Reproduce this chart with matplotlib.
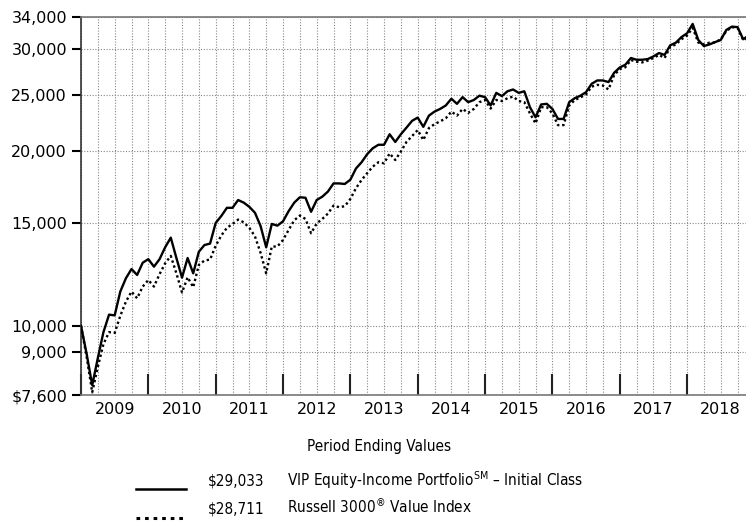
import numpy as np
import matplotlib
matplotlib.use("Agg")
import matplotlib.pyplot as plt
from matplotlib.lines import Line2D
from matplotlib.ticker import FixedLocator, NullLocator

# monthly values, Dec 2008 .. Dec 2018 (hypothetical $10,000 investment)
fund = [10000, 8950, 7900, 8800, 9750, 10450, 10420, 11450, 12070, 12520, 12230, 12840,
        13020, 12640, 13020, 13650, 14180, 13080, 12100, 13080, 12310, 13410, 13770, 13850,
        15030, 15450, 15960, 15960, 16460, 16290, 16020, 15650, 14850, 13650, 14970, 14870,
        15130, 15750, 16290, 16640, 16610, 15710, 16460, 16680, 17020, 17580, 17580, 17540,
        17840, 18650, 19120, 19740, 20210, 20490, 20490, 21360, 20720, 21360, 21930, 22530,
        22820, 22000, 23000, 23370, 23620, 23940, 24590, 24100, 24750, 24260, 24470, 24890,
        24750, 23940, 25170, 24850, 25330, 25510, 25170, 25330, 23780, 22850, 24040, 24100,
        23620, 22700, 22700, 24260, 24650, 24890, 25240, 26090, 26440, 26440, 26270, 27250,
        27830, 28140, 28900, 28700, 28700, 28780, 29080, 29470, 29260, 30390, 30710, 31400,
        31870, 33080, 31040, 30300, 30500, 30780, 31040, 32300, 32730, 32660, 31130, 31600,
        29033]
index = [10000, 8850, 7680, 8500, 9300, 9750, 9720, 10400, 11000, 11450, 11150, 11680,
         11990, 11680, 12270, 12810, 13190, 12310, 11410, 12120, 11650, 12730, 12950, 13000,
         13730, 14300, 14740, 14970, 15230, 15070, 14740, 14250, 13350, 12310, 13690, 13690,
         14050, 14620, 15190, 15480, 15270, 14430, 15000, 15270, 15600, 16100, 16000, 16060,
         16530, 17250, 17820, 18310, 18790, 19120, 19040, 19800, 19290, 19950, 20720, 21210,
         21720, 20880, 21890, 22240, 22480, 22760, 23370, 23000, 23620, 23250, 23620, 24260,
         24470, 23650, 24470, 24370, 24640, 24800, 24370, 24260, 23210, 22300, 23780, 23780,
         23210, 22150, 22150, 23940, 24470, 24720, 25020, 25800, 25980, 25910, 25510, 27000,
         27650, 27860, 28670, 28480, 28400, 28600, 28900, 29260, 28900, 30200, 30500, 31130,
         31590, 32560, 30730, 30500, 30710, 30730, 31130, 32170, 32660, 32560, 31040, 31300,
         28711]
years = list(range(2009, 2019))
y_ticks = [7600, 9000, 10000, 15000, 20000, 25000, 30000, 34000]
y_labels = ["$7,600", "9,000", "10,000", "15,000", "20,000", "25,000", "30,000", "34,000"]

# narrow sans for the legend block (original uses a condensed face)
legend_kw = dict(family="DejaVu Sans", stretch="condensed", fontsize=11, va="baseline")
plt.rcParams["mathtext.fontset"] = "custom"
plt.rcParams["mathtext.rm"] = "DejaVu Sans:stretch=condensed"

months = np.arange(len(fund))

fig = plt.figure(figsize=(7.46, 5.23), dpi=100)
# axes runs a little past the right edge of the image, like the original crop
ax = fig.add_axes([81 / 746, 128 / 523, 673.4 / 746, 378 / 523])

ax.plot(months, fund, color="black", lw=1.7, zorder=3)
ax.plot(months, index, color="black", lw=1.7, ls=(0, (1, 1.2)), zorder=3)

ax.set_yscale("log")
ax.set_ylim(7600, 34000)
ax.set_xlim(0, 120)
ax.yaxis.set_major_locator(FixedLocator(y_ticks))
ax.yaxis.set_minor_locator(NullLocator())
ax.set_yticklabels(y_labels)
ax.tick_params(axis="y", direction="out", length=6.5, width=1.5, pad=3.5,
               labelsize=11.5, color="black")

# year ticks (inside) + quarterly grid
ax.set_xticks(np.arange(0, 121, 12))
ax.set_xticklabels([])
ax.set_xticks([q for q in range(3, 120, 3) if q % 12], minor=True)
ax.tick_params(axis="x", which="major", direction="in", length=15, width=1.5, color="#222222")
ax.tick_params(axis="x", which="minor", length=0)
ax.grid(True, which="both", axis="x", color="#888888", lw=0.8, ls=(0, (1, 1.5)))
ax.grid(True, which="major", axis="y", color="#888888", lw=0.8, ls=(0, (1, 1.5)))
ax.set_axisbelow(True)

sec = ax.secondary_xaxis("bottom")
sec.set_xticks(np.arange(6, 120, 12))
sec.set_xticklabels([str(y) for y in years])
sec.tick_params(length=0, pad=5, labelsize=11.5)
sec.spines["bottom"].set_visible(False)

for s in ["top", "bottom"]:
    ax.spines[s].set_color("#777777")
    ax.spines[s].set_linewidth(1.2)
ax.spines["left"].set_color("#333333")
ax.spines["left"].set_linewidth(1.2)
ax.spines["right"].set_visible(False)

# legend block
fig.text(379.5 / 746, 72 / 523, "Period Ending Values", ha="center", **legend_kw)
fig.add_artist(Line2D([136 / 746, 186 / 746], [34 / 523, 34 / 523], color="black", lw=1.8))
fig.add_artist(Line2D([136 / 746, 186 / 746], [5.5 / 523, 5.5 / 523], color="black",
                      lw=2.2, ls=(0, (1.2, 1.6))))
fig.text(208 / 746, 37 / 523, r"\$29,033", ha="left", **legend_kw)
fig.text(287 / 746, 37 / 523, r"VIP Equity-Income Portfolio$^{\mathrm{SM}}$ – Initial Class",
         ha="left", **legend_kw)
fig.text(208 / 746, 10 / 523, r"\$28,711", ha="left", **legend_kw)
fig.text(287 / 746, 10 / 523, r"Russell 3000$^{\circledR}$ Value Index",
         ha="left", **legend_kw)

fig.savefig("out.png", dpi=100)
